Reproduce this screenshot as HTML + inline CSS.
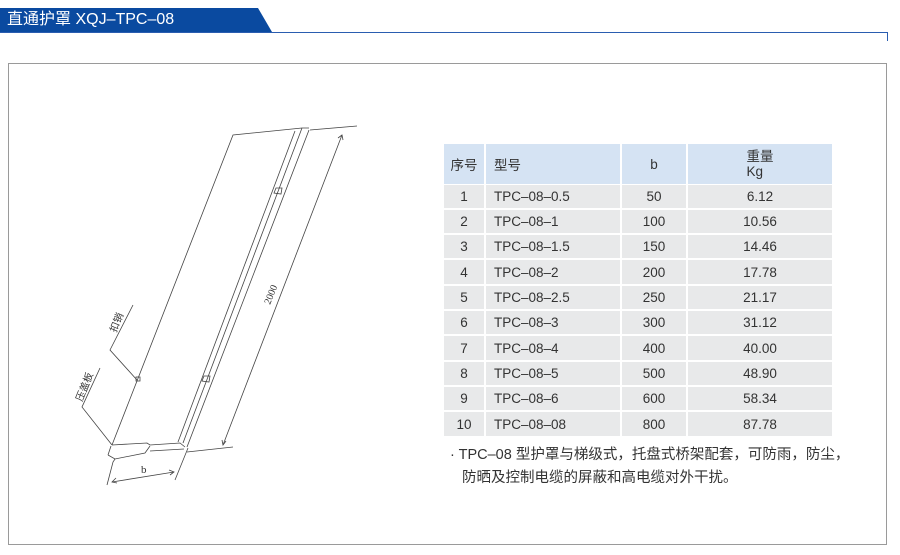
<!DOCTYPE html>
<html><head><meta charset="utf-8"><style>
body{margin:0;width:900px;height:555px;background:#fff;position:relative;overflow:hidden;font-family:"Liberation Sans","Noto Sans CJK SC",sans-serif;}
.c{position:absolute;display:flex;align-items:center;justify-content:center;font-size:13.5px;color:#333;}
.h{background:#d5e3f3;}
.g{background:#e8e9ea;}
.l{justify-content:flex-start;padding-left:8px;box-sizing:border-box;}
</style></head><body>
<svg width="900" height="555" style="position:absolute;left:0;top:0">
<polygon points="0,8 258,8 272,32 0,32" fill="#0a4aa0"/>
<line x1="0" y1="32.5" x2="888" y2="32.5" stroke="#2a5db0" stroke-width="1"/>
<line x1="887.5" y1="32" x2="887.5" y2="41" stroke="#2a5db0" stroke-width="1"/>
<rect x="8.5" y="63.5" width="878" height="481" fill="none" stroke="#9a9a9a" stroke-width="1"/>
<g stroke="#444" stroke-width="0.8" fill="none">
<polyline points="112,445 233,135 302,128 309,128"/>
<line x1="302" y1="128" x2="183" y2="443"/>
<line x1="309" y1="130" x2="187" y2="447"/>
<line x1="295" y1="131" x2="178" y2="442"/>
<line x1="310" y1="130" x2="357" y2="126"/>
<line x1="342" y1="135" x2="223" y2="445"/>
<polyline points="338,138 342,135 343,140"/>
<polyline points="222,440 223,445 226,441"/>
<line x1="187" y1="452" x2="233" y2="447"/>
<polyline points="112,445 147,443 150,445 180,443 185,447"/>
<polyline points="108,455 111,446"/>
<polyline points="108,455 115,459 145,453 150,446"/>
<polyline points="115,459 113,462 107,485"/>
<line x1="150" y1="451" x2="184" y2="449"/>
<line x1="188" y1="448" x2="175" y2="480"/>
<line x1="112" y1="482" x2="174" y2="472"/>
<polyline points="116,478 112,482 117,483"/>
<polyline points="169,470 174,472 170,475"/>
<path d="M274,193 l2,-5 h6 l-1,6 z"/>
<path d="M202,381 l2,-5 h6 l-1,6 z"/>
<rect x="136" y="377" width="4" height="4"/>
<polyline points="137,380 110,350 133,305"/>
<polyline points="112,445 82,407 100,368"/>
</g>
<text x="0" y="0" font-family="Liberation Serif,serif" font-size="10" fill="#333" transform="translate(270,305) rotate(-68)">2000</text>
<text x="141" y="473" font-family="Liberation Serif,serif" font-size="11" fill="#333">b</text>
<text x="0" y="0" font-family="Liberation Sans,Noto Sans CJK SC,sans-serif" font-size="10" fill="#333" transform="translate(116,333) rotate(-68)">扣销</text>
<text x="0" y="0" font-family="Liberation Sans,Noto Sans CJK SC,sans-serif" font-size="10" fill="#333" transform="translate(82,402) rotate(-68)">压盖板</text>
</svg>
<div style="position:absolute;left:7px;top:9px;color:#fff;font-size:16px;line-height:22px;white-space:nowrap;">直通护罩 XQJ–TPC–08</div>

<div class="c h" style="left:444px;top:144px;width:40px;height:40px;">序号</div>
<div class="c h l" style="left:486px;top:144px;width:134px;height:40px;">型号</div>
<div class="c h" style="left:622px;top:144px;width:64px;height:40px;">b</div>
<div class="c h" style="left:688px;top:144px;width:144px;height:40px;flex-direction:column;line-height:15px;">重量<br>Kg</div>

<div class="c g" style="left:444px;top:185px;width:40px;height:23px">1</div><div class="c g l" style="left:486px;top:185px;width:134px;height:23px">TPC–08–0.5</div><div class="c g" style="left:622px;top:185px;width:64px;height:23px">50</div><div class="c g" style="left:688px;top:185px;width:144px;height:23px">6.12</div>
<div class="c g" style="left:444px;top:210px;width:40px;height:23px">2</div><div class="c g l" style="left:486px;top:210px;width:134px;height:23px">TPC–08–1</div><div class="c g" style="left:622px;top:210px;width:64px;height:23px">100</div><div class="c g" style="left:688px;top:210px;width:144px;height:23px">10.56</div>
<div class="c g" style="left:444px;top:235px;width:40px;height:23px">3</div><div class="c g l" style="left:486px;top:235px;width:134px;height:23px">TPC–08–1.5</div><div class="c g" style="left:622px;top:235px;width:64px;height:23px">150</div><div class="c g" style="left:688px;top:235px;width:144px;height:23px">14.46</div>
<div class="c g" style="left:444px;top:260px;width:40px;height:24px">4</div><div class="c g l" style="left:486px;top:260px;width:134px;height:24px">TPC–08–2</div><div class="c g" style="left:622px;top:260px;width:64px;height:24px">200</div><div class="c g" style="left:688px;top:260px;width:144px;height:24px">17.78</div>
<div class="c g" style="left:444px;top:286px;width:40px;height:23px">5</div><div class="c g l" style="left:486px;top:286px;width:134px;height:23px">TPC–08–2.5</div><div class="c g" style="left:622px;top:286px;width:64px;height:23px">250</div><div class="c g" style="left:688px;top:286px;width:144px;height:23px">21.17</div>
<div class="c g" style="left:444px;top:311px;width:40px;height:23px">6</div><div class="c g l" style="left:486px;top:311px;width:134px;height:23px">TPC–08–3</div><div class="c g" style="left:622px;top:311px;width:64px;height:23px">300</div><div class="c g" style="left:688px;top:311px;width:144px;height:23px">31.12</div>
<div class="c g" style="left:444px;top:336px;width:40px;height:24px">7</div><div class="c g l" style="left:486px;top:336px;width:134px;height:24px">TPC–08–4</div><div class="c g" style="left:622px;top:336px;width:64px;height:24px">400</div><div class="c g" style="left:688px;top:336px;width:144px;height:24px">40.00</div>
<div class="c g" style="left:444px;top:362px;width:40px;height:23px">8</div><div class="c g l" style="left:486px;top:362px;width:134px;height:23px">TPC–08–5</div><div class="c g" style="left:622px;top:362px;width:64px;height:23px">500</div><div class="c g" style="left:688px;top:362px;width:144px;height:23px">48.90</div>
<div class="c g" style="left:444px;top:387px;width:40px;height:23px">9</div><div class="c g l" style="left:486px;top:387px;width:134px;height:23px">TPC–08–6</div><div class="c g" style="left:622px;top:387px;width:64px;height:23px">600</div><div class="c g" style="left:688px;top:387px;width:144px;height:23px">58.34</div>
<div class="c g" style="left:444px;top:412px;width:40px;height:24px">10</div><div class="c g l" style="left:486px;top:412px;width:134px;height:24px">TPC–08–08</div><div class="c g" style="left:622px;top:412px;width:64px;height:24px">800</div><div class="c g" style="left:688px;top:412px;width:144px;height:24px">87.78</div>

<div style="position:absolute;left:450px;top:444px;font-size:14.5px;color:#333;line-height:23px;white-space:nowrap;">· TPC–08 型护罩与梯级式，托盘式桥架配套，可防雨，防尘，<br><span style="padding-left:12px">防晒及控制电缆的屏蔽和高电缆对外干扰。</span></div>
</body></html>
